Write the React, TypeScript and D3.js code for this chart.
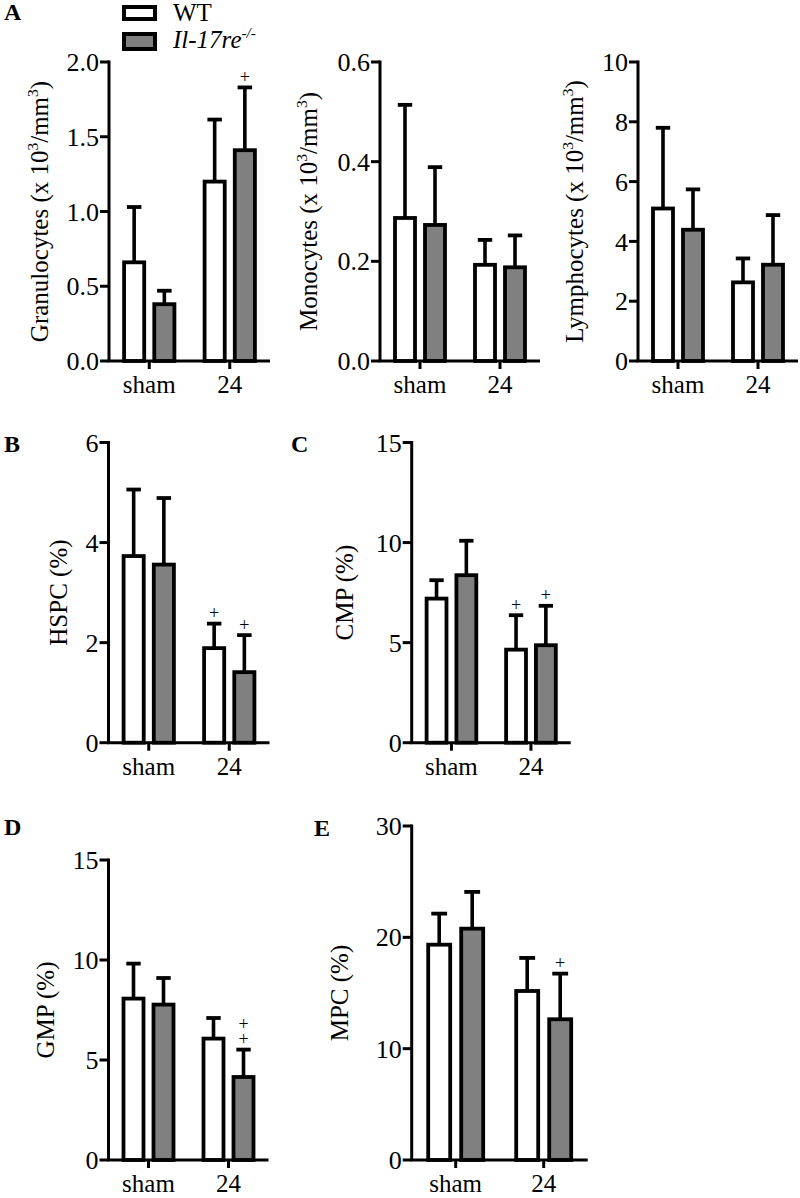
import * as d3 from 'd3';

const GROUPS = ['sham', '24'];

// mean / SD per group (order = GROUPS)
const GRAN_WT = [0.66, 1.2];
const GRAN_WT_SD = [0.37, 0.415];
const GRAN_KO = [0.38, 1.41];
const GRAN_KO_SD = [0.09, 0.42];

const MONO_WT = [0.287, 0.193];
const MONO_WT_SD = [0.227, 0.05];
const MONO_KO = [0.273, 0.188];
const MONO_KO_SD = [0.116, 0.064];

const LYMPH_WT = [5.1, 2.63];
const LYMPH_WT_SD = [2.7, 0.8];
const LYMPH_KO = [4.39, 3.22];
const LYMPH_KO_SD = [1.35, 1.66];

const HSPC_WT = [3.73, 1.89];
const HSPC_WT_SD = [1.33, 0.49];
const HSPC_KO = [3.56, 1.41];
const HSPC_KO_SD = [1.33, 0.74];

const CMP_WT = [7.2, 4.65];
const CMP_WT_SD = [0.92, 1.72];
const CMP_KO = [8.37, 4.87];
const CMP_KO_SD = [1.72, 1.97];

const GMP_WT = [8.07, 6.07];
const GMP_WT_SD = [1.75, 1.03];
const GMP_KO = [7.77, 4.15];
const GMP_KO_SD = [1.33, 1.37];

const MPC_WT = [19.34, 15.18];
const MPC_WT_SD = [2.79, 2.97];
const MPC_KO = [20.78, 12.64];
const MPC_KO_SD = [3.3, 4.1];

// number of "+" marks above each bar
const GRAN_MARKS = { wt: [0, 0], ko: [0, 1] };
const MONO_MARKS = { wt: [0, 0], ko: [0, 0] };
const LYMPH_MARKS = { wt: [0, 0], ko: [0, 0] };
const HSPC_MARKS = { wt: [0, 1], ko: [0, 1] };
const CMP_MARKS = { wt: [0, 1], ko: [0, 1] };
const GMP_MARKS = { wt: [0, 0], ko: [0, 2] };
const MPC_MARKS = { wt: [0, 0], ko: [0, 1] };

const FONT = "'Liberation Serif', Tinos, 'Times New Roman', Times, 'DejaVu Serif', serif";
const GRAY = '#808080';

type Seg = { t: string; sup?: boolean };

const cellsLabel = (name: string): Seg[] => [
  { t: `${name} (x 10` },
  { t: '3', sup: true },
  { t: '/mm' },
  { t: '3', sup: true },
  { t: ')' },
];

interface PanelSpec {
  letter?: string;
  letterX?: number;
  letterY?: number;
  axisX: number;
  top: number;
  bottom: number;
  width: number;
  max: number;
  step: number;
  fmt: string;
  label: Seg[];
  labelDx: number;
  wt: number[];
  wtSd: number[];
  ko: number[];
  koSd: number[];
  marks: { wt: number[]; ko: number[] };
}

const PANELS: PanelSpec[] = [
  {
    letter: 'A', letterX: 4, letterY: 20,
    axisX: 109, top: 62, bottom: 361, width: 161, max: 2, step: 0.5, fmt: '.1f',
    label: cellsLabel('Granulocytes'), labelDx: -61,
    wt: GRAN_WT, wtSd: GRAN_WT_SD, ko: GRAN_KO, koSd: GRAN_KO_SD, marks: GRAN_MARKS,
  },
  {
    axisX: 380, top: 62, bottom: 361, width: 160, max: 0.6, step: 0.2, fmt: '.1f',
    label: cellsLabel('Monocytes'), labelDx: -63,
    wt: MONO_WT, wtSd: MONO_WT_SD, ko: MONO_KO, koSd: MONO_KO_SD, marks: MONO_MARKS,
  },
  {
    axisX: 638, top: 62, bottom: 361, width: 160, max: 10, step: 2, fmt: 'd',
    label: cellsLabel('Lymphocytes'), labelDx: -55,
    wt: LYMPH_WT, wtSd: LYMPH_WT_SD, ko: LYMPH_KO, koSd: LYMPH_KO_SD, marks: LYMPH_MARKS,
  },
  {
    letter: 'B', letterX: 4, letterY: 452,
    axisX: 108.5, top: 442.5, bottom: 742.7, width: 161, max: 6, step: 2, fmt: 'd',
    label: [{ t: 'HSPC (%)' }], labelDx: -42,
    wt: HSPC_WT, wtSd: HSPC_WT_SD, ko: HSPC_KO, koSd: HSPC_KO_SD, marks: HSPC_MARKS,
  },
  {
    letter: 'C', letterX: 291, letterY: 452,
    axisX: 411.7, top: 442.5, bottom: 742.7, width: 159, max: 15, step: 5, fmt: 'd',
    label: [{ t: 'CMP (%)' }], labelDx: -58.5,
    wt: CMP_WT, wtSd: CMP_WT_SD, ko: CMP_KO, koSd: CMP_KO_SD, marks: CMP_MARKS,
  },
  {
    letter: 'D', letterX: 4, letterY: 835,
    axisX: 108.5, top: 860, bottom: 1160, width: 160, max: 15, step: 5, fmt: 'd',
    label: [{ t: 'GMP (%)' }], labelDx: -55,
    wt: GMP_WT, wtSd: GMP_WT_SD, ko: GMP_KO, koSd: GMP_KO_SD, marks: GMP_MARKS,
  },
  {
    letter: 'E', letterX: 314, letterY: 836,
    axisX: 411.7, top: 826, bottom: 1160, width: 176, max: 30, step: 10, fmt: 'd',
    label: [{ t: 'MPC (%)' }], labelDx: -63.5,
    wt: MPC_WT, wtSd: MPC_WT_SD, ko: MPC_KO, koSd: MPC_KO_SD, marks: MPC_MARKS,
  },
];

function SegText({ segs, size }: { segs: Seg[]; size: number }) {
  const out: JSX.Element[] = [];
  segs.forEach((s, i) => {
    const prevSup = i > 0 && segs[i - 1].sup;
    if (s.sup) {
      out.push(
        <tspan key={i} fontSize={size * 0.62} dy={-size * 0.42}>
          {s.t}
        </tspan>,
      );
    } else {
      out.push(
        <tspan key={i} dy={prevSup ? size * 0.42 : 0}>
          {s.t}
        </tspan>,
      );
    }
  });
  return <>{out}</>;
}

function Panel({ p }: { p: PanelSpec }) {
  const y = d3.scaleLinear().domain([0, p.max]).range([p.bottom, p.top]);
  const x = d3.scaleBand<string>().domain(GROUPS).range([p.axisX, p.axisX + p.width]);
  const bw = x.bandwidth();
  const barW = bw * 0.25;
  const off = bw * 0.1875;
  const capW = bw * 0.18;
  const ticks = d3.range(0, p.max + p.step / 2, p.step);
  const fmt = d3.format(p.fmt);
  const midY = (p.top + p.bottom) / 2;

  const series = [
    { key: 'wt', vals: p.wt, sd: p.wtSd, fill: '#ffffff', dx: -off, marks: p.marks.wt },
    { key: 'ko', vals: p.ko, sd: p.koSd, fill: GRAY, dx: off, marks: p.marks.ko },
  ];

  return (
    <g>
      {p.letter && (
        <text x={p.letterX} y={p.letterY} fontFamily={FONT} fontWeight="bold" fontSize={24}>
          {p.letter}
        </text>
      )}

      {series.map((s) =>
        GROUPS.map((g, i) => {
          const cx = (x(g) ?? 0) + bw / 2 + s.dx;
          const top = y(s.vals[i]);
          const errTop = y(s.vals[i] + s.sd[i]);
          return (
            <g key={`${s.key}-${g}`}>
              <line x1={cx} x2={cx} y1={top} y2={errTop} stroke="#000" strokeWidth={3.6} />
              <line x1={cx - capW / 2} x2={cx + capW / 2} y1={errTop} y2={errTop} stroke="#000" strokeWidth={3.8} />
              <rect
                x={cx - barW / 2}
                y={top}
                width={barW}
                height={y(0) - top}
                fill={s.fill}
                stroke="#000"
                strokeWidth={3.8}
              />
              {d3.range(s.marks[i]).map((k) => (
                <text
                  key={k}
                  x={cx}
                  y={errTop - 4.5 - k * 15}
                  textAnchor="middle"
                  fontFamily={FONT}
                  fontSize={18}
                  fill="#000"
                >
                  +
                </text>
              ))}
            </g>
          );
        }),
      )}

      {/* y axis */}
      <line x1={p.axisX} x2={p.axisX} y1={p.top - 1.5} y2={p.bottom} stroke="#000" strokeWidth={3} />
      {ticks.map((t) => (
        <g key={t}>
          <line x1={p.axisX - 9} x2={p.axisX} y1={y(t)} y2={y(t)} stroke="#000" strokeWidth={3} />
          <text
            x={p.axisX - 10}
            y={y(t)}
            dy="0.35em"
            textAnchor="end"
            fontFamily={FONT}
            fontSize={26}
          >
            {fmt(t)}
          </text>
        </g>
      ))}

      {/* x axis */}
      <line x1={p.axisX - 1.5} x2={p.axisX + p.width} y1={p.bottom} y2={p.bottom} stroke="#000" strokeWidth={3} />
      {GROUPS.map((g) => {
        const cx = (x(g) ?? 0) + bw / 2;
        return (
          <g key={g}>
            <line x1={cx} x2={cx} y1={p.bottom} y2={p.bottom + 8} stroke="#000" strokeWidth={3} />
            <text x={cx} y={p.bottom + 32} textAnchor="middle" fontFamily={FONT} fontSize={25}>
              {g}
            </text>
          </g>
        );
      })}

      <text
        transform={`translate(${p.axisX + p.labelDx}, ${midY}) rotate(-90)`}
        textAnchor="middle"
        fontFamily={FONT}
        fontSize={25}
      >
        <SegText segs={p.label} size={25} />
      </text>
    </g>
  );
}

export default function App() {
  return (
    <svg
      width={800}
      height={1198}
      viewBox="0 0 800 1198"
      style={{ position: 'absolute', left: 0, top: 0, background: '#fff' }}
    >
      <rect width={800} height={1198} fill="#fff" />

      {/* legend */}
      <rect x={124} y={7} width={31} height={12} fill="#fff" stroke="#000" strokeWidth={4} />
      <rect x={124} y={34} width={31} height={15} fill={GRAY} stroke="#000" strokeWidth={4} />
      <text x={173} y={21} fontFamily={FONT} fontSize={25}>
        WT
      </text>
      <text x={173} y={48} fontFamily={FONT} fontSize={25} fontStyle="italic">
        Il-17re
        <tspan fontSize={15} dy={-10}>
          -/-
        </tspan>
      </text>

      {PANELS.map((p, i) => (
        <Panel key={i} p={p} />
      ))}
    </svg>
  );
}
